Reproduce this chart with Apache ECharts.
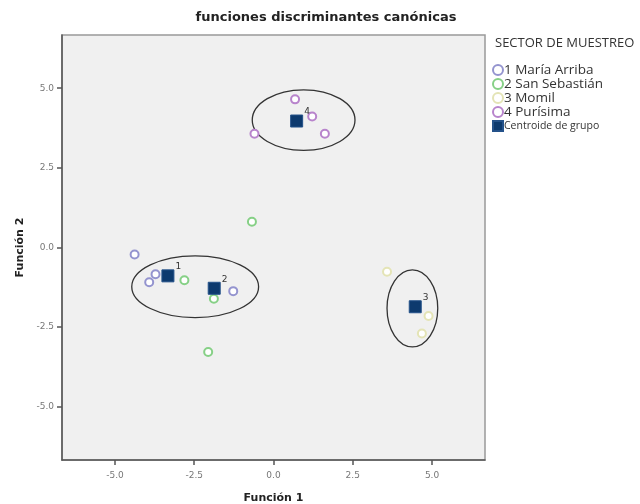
<!DOCTYPE html>
<html>
<head>
<meta charset="utf-8">
<script src="https://cdn.jsdelivr.net/npm/echarts@6/dist/echarts.min.js"></script>
<style>html,body{margin:0;padding:0;background:#fff}#c{width:640px;height:504px}</style>
</head>
<body>
<div id="c"></div>
<script>
// ---- data ----
const groupNames = ['1 María Arriba', '2 San Sebastián', '3 Momil', '4 Purísima'];
const centroidName = 'Centroide de grupo';
const g1 = [[-4.38, -0.22], [-3.72, -0.84], [-3.92, -1.09], [-1.27, -1.37]];
const g2 = [[-0.68, 0.81], [-2.81, -1.03], [-1.88, -1.61], [-2.06, -3.28]];
const g3 = [[3.58, -0.76], [4.89, -2.15], [4.68, -2.70]];
const g4 = [[0.68, 4.65], [1.22, 4.11], [-0.60, 3.57], [1.62, 3.57]];
const centroids = [[-3.33, -0.89, '1'], [-1.87, -1.28, '2'], [4.47, -1.86, '3'], [0.73, 3.97, '4']];
// ellipses: center x, center y, radius x, radius y (data units)
const ellipses = [[0.95, 4.0, 1.62, 0.95], [-2.47, -1.23, 2.0, 0.97], [4.38, -1.91, 0.80, 1.21]];
const tickValues = [-5, -2.5, 0, 2.5, 5];

const groupColors = ['#9494cf', '#86d086', '#e4e4b6', '#b884cc'];
const groups = [g1, g2, g3, g4];

const chart = echarts.init(document.getElementById('c'));
const axisCommon = {
  min: -6.67, max: 6.67,
  axisLine: {show: true, onZero: false, lineStyle: {color: '#555', width: 1.5}},
  axisTick: {show: true, inside: false, length: 5, customValues: tickValues, lineStyle: {color: '#555', width: 1.5}},
  axisLabel: {customValues: tickValues, formatter: v => v.toFixed(1), fontSize: 9, color: '#777', fontFamily: 'DejaVu Sans'},
  splitLine: {show: false},
  nameLocation: 'middle',
  nameTextStyle: {fontFamily: 'DejaVu Sans', fontWeight: 'bold', fontSize: 11, color: '#222'}
};
const series = groups.map((g, i) => ({
  name: groupNames[i], type: 'scatter', data: g, symbol: 'emptyCircle', symbolSize: 8,
  itemStyle: {color: groupColors[i], borderColor: groupColors[i], borderWidth: 1.3, opacity: 1},
  z: 3
}));
series.push({
  name: centroidName, type: 'scatter', data: centroids, symbol: 'rect', symbolSize: 12,
  itemStyle: {color: '#0d3a6e', borderColor: '#24528a', borderWidth: 1, opacity: 1},
  label: {show: true, formatter: p => p.data[2], position: 'right', distance: 1, offset: [0, -9],
    fontSize: 9, color: '#333', fontFamily: 'DejaVu Sans'},
  z: 4
});
series.push({
  type: 'custom', name: 'ellipses', data: ellipses, silent: true, z: 2,
  renderItem: function (params, api) {
    const c = api.coord([api.value(0), api.value(1)]);
    const s = api.size([api.value(2), api.value(3)]);
    return {type: 'ellipse', shape: {cx: c[0], cy: c[1], rx: s[0], ry: s[1]},
      style: {fill: 'none', stroke: '#333', lineWidth: 1.3}};
  }
});

chart.setOption({
  animation: false,
  title: [
    {text: 'funciones discriminantes canónicas', left: 321, textAlign: 'center', top: 6,
      textStyle: {fontFamily: 'DejaVu Sans', fontWeight: 'bold', fontSize: 13, color: '#222'}},
    {text: 'SECTOR DE MUESTREO', left: 490, top: 37, padding: [0, 0, 0, 5],
      textStyle: {fontFamily: 'Open Sans', fontWeight: 'normal', fontSize: 13, color: '#333'}}
  ],
  grid: {left: 62, right: 155, top: 35, bottom: 44, outerBoundsMode: 'none', containLabel: false,
    show: true, backgroundColor: '#f0f0f0', borderColor: '#999', borderWidth: 1.5},
  xAxis: Object.assign({}, axisCommon, {type: 'value', name: 'Función 1', nameGap: 33,
    axisLabel: Object.assign({}, axisCommon.axisLabel, {margin: 11})}),
  yAxis: Object.assign({}, axisCommon, {type: 'value', name: 'Función 2', nameGap: 36}),
  legend: {
    orient: 'vertical', left: 487, top: 63, padding: [0, 0, 0, 5], itemWidth: 10, itemHeight: 10, itemGap: 0,
    textStyle: {fontFamily: 'Open Sans', fontSize: 13.5, lineHeight: 14, color: '#333', padding: [0, 0, 0, -4]},
    data: groupNames.map(n => ({name: n, icon: 'emptyCircle'})).concat([{name: centroidName, icon: 'rect', textStyle: {fontSize: 10.5}}])
  },
  series: series
});
</script>
</body>
</html>
